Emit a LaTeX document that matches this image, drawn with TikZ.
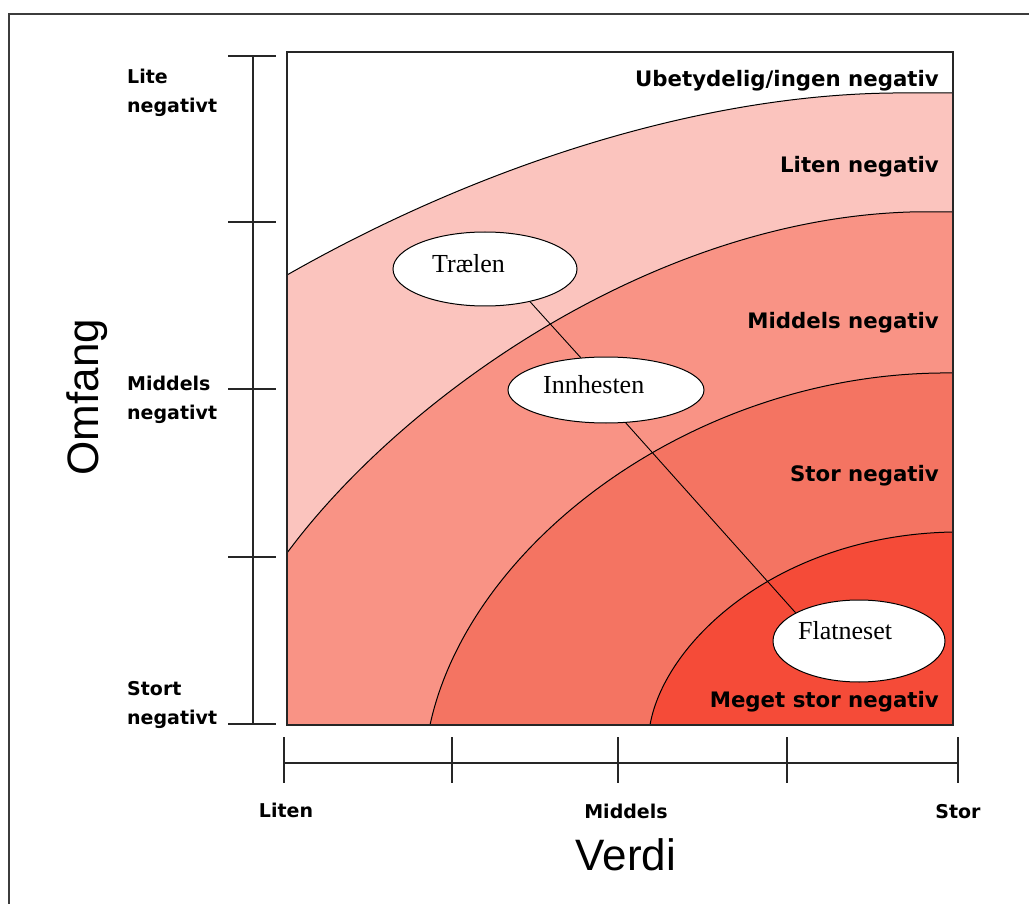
\documentclass[tikz,border=0pt]{standalone}
\usepackage{fontspec}
\usetikzlibrary{shapes.geometric}
\newfontfamily\vfont{DejaVu Sans}
\newfontfamily\afont{Liberation Sans}
\newfontfamily\tfont{Liberation Serif}
\definecolor{zoneA}{HTML}{FBC4BE}
\definecolor{zoneB}{HTML}{F99385}
\definecolor{zoneC}{HTML}{F47462}
\definecolor{zoneD}{HTML}{F54B38}
\definecolor{framegray}{HTML}{3C3C3C}
\tikzset{
  curveline/.style={draw=black, line width=1pt},
  axisline/.style={draw=black!85, line width=1.6pt},
  ticklabel/.style={font=\vfont\bfseries\fontsize{19}{28.5}\selectfont, inner sep=0pt, align=left},
  zonelabel/.style={font=\vfont\bfseries\fontsize{21.3}{24}\selectfont, inner sep=0pt, anchor=base east},
  bigtitle/.style={font=\afont\fontsize{44}{50}\selectfont, inner sep=0pt},
  site/.style={ellipse, draw=black, line width=1pt, fill=white, inner sep=0pt},
  sitelabel/.style={font=\tfont\fontsize{26}{30}\selectfont, inner sep=0pt, anchor=base west},
  conn/.style={draw=black, line width=0.9pt}
}
\begin{document}
\begin{tikzpicture}[x=1pt,y=-1pt]
\useasboundingbox (0,0) rectangle (1029,904);
\fill[white] (0,0) rectangle (1029,904);
% outer frame (only left and top visible)
\draw[framegray, line width=2pt] (9,904) -- (9,14) -- (1029,14);
% plot area
\fill[white] (287,52) rectangle (953,725);
\draw[curveline, fill=zoneA] (287,275) .. controls (480,165) and (700,95) .. (893,93) -- (953,93) -- (953,725) -- (287,725) -- cycle;
\draw[curveline, fill=zoneB] (287,553) .. controls (400,400) and (650,220) .. (910,212) -- (953,212) -- (953,725) -- (287,725) -- cycle;
\draw[curveline, fill=zoneC] (430,725) .. controls (470,540) and (700,370) .. (953,373) -- (953,725) -- cycle;
\draw[curveline, fill=zoneD] (650,725) .. controls (665,640) and (780,535) .. (953,532) -- (953,725) -- cycle;
\draw[draw=black!85, line width=2pt] (287,52) rectangle (953,725);
% zone labels
\node[zonelabel] (zu) at (939,87) {Ubetydelig/ingen negativ};
\node[zonelabel] (zl) at (939,173) {Liten negativ};
\node[zonelabel] (zm) at (939,328) {Middels negativ};
\node[zonelabel] (zs) at (939,481) {Stor negativ};
\node[zonelabel] (zms) at (939,707) {Meget stor negativ};
% vertical axis
\draw[axisline] (253,56) -- (253,724);
\foreach \yy in {56,222,389,557,724} { \draw[axisline] (228,\yy) -- (276,\yy); }
\node[ticklabel, anchor=west] (yl1) at (127,93) {Lite\\negativt};
\node[ticklabel, anchor=west] (yl2) at (127,400) {Middels\\negativt};
\node[ticklabel, anchor=west] (yl3) at (127,705) {Stort\\negativt};
\node[bigtitle, rotate=90, anchor=base] (omf) at (98,397) {Omfang};
% horizontal axis
\draw[axisline] (284,763) -- (958,763);
\foreach \xx in {284,452,618,787,958} { \draw[axisline] (\xx,737) -- (\xx,783); }
\node[ticklabel, anchor=base] (xl1) at (286,817) {Liten};
\node[ticklabel, anchor=base] (xl2) at (626,818) {Middels};
\node[ticklabel, anchor=base] (xl3) at (958,818) {Stor};
\node[bigtitle, anchor=base] (verdi) at (626,870) {Verdi};
% sites
\node[site, minimum width=184pt, minimum height=74pt] (traelen) at (485,269) {};
\node[site, minimum width=196pt, minimum height=66pt] (innhesten) at (606,390) {};
\node[site, minimum width=172pt, minimum height=82pt] (flatneset) at (859,641) {};
\node[sitelabel] (tlab) at (432,273) {Trælen};
\node[sitelabel] (ilab) at (543,393) {Innhesten};
\node[sitelabel] (flab) at (798,639) {Flatneset};
\draw[conn] (traelen.-36) -- (innhesten.128);
\draw[conn] (innhesten.-59) -- (flatneset.156);
\end{tikzpicture}
\end{document}
